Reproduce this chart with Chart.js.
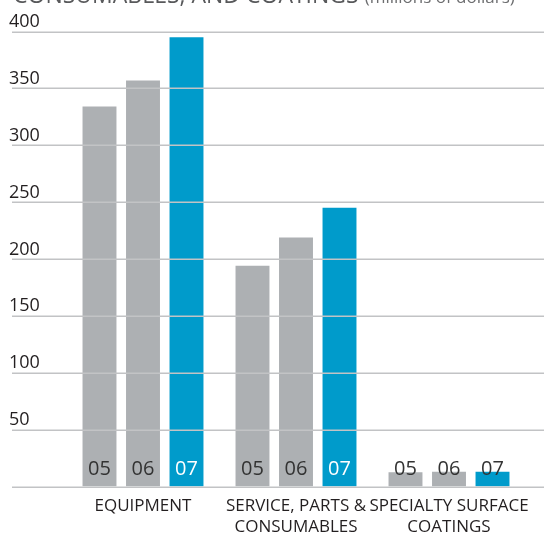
<!DOCTYPE html>
<html>
<head>
<meta charset="utf-8">
<script src="https://cdn.jsdelivr.net/npm/chart.js@4.4.1/dist/chart.umd.min.js"></script>
<style>
  html, body { margin: 0; padding: 0; background: #fff; }
  #wrap { width: 544px; height: 537px; position: relative; }
</style>
</head>
<body>
<div id="wrap"><canvas id="chartSales"></canvas></div>
<script>
const categories = ['EQUIPMENT', ['SERVICE, PARTS &', 'CONSUMABLES'], ['SPECIALTY SURFACE', 'COATINGS']];
const years = ['05', '06', '07'];
const sales05 = [334, 194, 12.5];
const sales06 = [357, 219, 13];
const sales07 = [395, 245, 13];
const yTicks = [0, 50, 100, 150, 200, 250, 300, 350, 400];

const GRAY = '#adb0b3';
const BLUE = '#009bcb';
const FONT = '"Open Sans", "DejaVu Sans", sans-serif';

// title line, grid lines across the whole width and the year tags in the bars
const decorPlugin = {
    id: 'decor',
    beforeDraw(chart) {
        const c = chart.ctx;
        c.save();
        c.textBaseline = 'alphabetic';
        c.textAlign = 'left';
        c.fillStyle = '#58595b';
        c.font = '23px ' + FONT;
        c.fillText('CONSUMABLES, AND COATINGS', 13, 3);
        const w = c.measureText('CONSUMABLES, AND COATINGS').width;
        c.fillStyle = '#6d6e70';
        c.font = '17px ' + FONT;
        c.fillText('(millions of dollars)', 13 + w + 6, 3);
        c.restore();
    },
    afterDatasetsDraw(chart) {
        const c = chart.ctx;
        const y = chart.scales.y;
        c.save();
        c.strokeStyle = '#c2c3c5';
        c.lineWidth = 1.5;
        yTicks.forEach(v => {
            const py = Math.round(y.getPixelForValue(v)) + 0.25;
            c.beginPath();
            c.moveTo(12, py);
            c.lineTo(chart.width, py);
            c.stroke();
        });
        c.fillStyle = '#231f20';
        c.font = '18px ' + FONT;
        c.textAlign = 'left';
        c.textBaseline = 'alphabetic';
        yTicks.forEach(v => {
            if (v === 0) return;
            c.fillText(String(v), 9, y.getPixelForValue(v) - 4.5);
        });

        const base = y.getPixelForValue(0);
        const tagY = base - 17.5;
        c.font = '20px ' + FONT;
        c.textAlign = 'center';
        c.textBaseline = 'middle';
        chart.data.datasets.forEach((ds, di) => {
            const meta = chart.getDatasetMeta(di);
            meta.data.forEach(bar => {
                const onBlue = di === 2 && bar.y < tagY - 8;
                c.fillStyle = onBlue ? '#ffffff' : '#333333';
                c.fillText(ds.label, bar.x, tagY);
            });
        });
        c.restore();
    }
};

new Chart(document.getElementById('chartSales'), {
    type: 'bar',
    data: {
        labels: categories,
        datasets: [
            { label: years[0], data: sales05, backgroundColor: GRAY },
            { label: years[1], data: sales06, backgroundColor: GRAY },
            { label: years[2], data: sales07, backgroundColor: BLUE }
        ]
    },
    options: {
        responsive: true,
        maintainAspectRatio: false,
        animation: false,
        events: [],
        layout: { padding: { left: 66.5, right: 18.5, top: 31.5, bottom: -10 } },
        datasets: {
            bar: { categoryPercentage: 0.853, barPercentage: 0.78, borderWidth: 0 }
        },
        plugins: {
            legend: { display: false },
            tooltip: { enabled: false }
        },
        scales: {
            x: {
                grid: { display: false, drawTicks: false },
                border: { display: false },
                ticks: {
                    color: '#231f20',
                    padding: 9,
                    maxRotation: 0,
                    autoSkip: false,
                    font: { family: FONT, size: 17, lineHeight: 1.25 }
                }
            },
            y: {
                display: false,
                min: 0,
                max: 400,
                ticks: { stepSize: 50 }
            }
        }
    },
    plugins: [decorPlugin]
});
</script>
</body>
</html>
